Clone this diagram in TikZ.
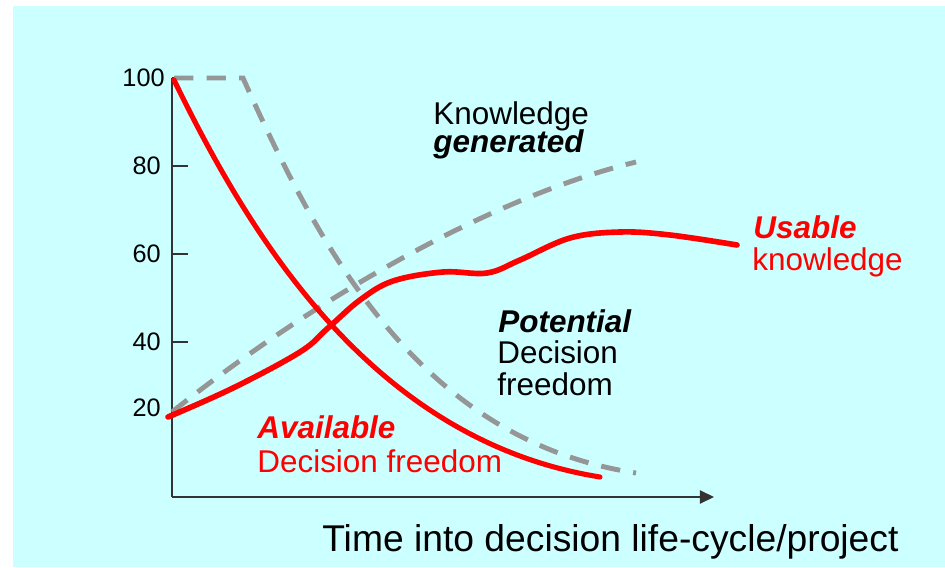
\documentclass[tikz,border=0pt]{standalone}
\usepackage{fontspec}
\setmainfont{Liberation Sans}
\usepackage{tikz}
\usetikzlibrary{arrows.meta}
\definecolor{bgcyan}{HTML}{CCFFFF}
\definecolor{dashgray}{HTML}{969696}
\tikzstyle{lbl} = [inner sep=0pt, anchor=base west, font=\fontsize{17.9}{20}\selectfont]
\tikzstyle{bi} = [font=\fontsize{17.9}{20}\selectfont\bfseries\itshape]
\tikzstyle{ticklbl} = [inner sep=0pt, anchor=east, font=\fontsize{14.4}{16}\selectfont]
\tikzstyle{redcurve} = [red, line width=2.9pt, line cap=round]
\tikzstyle{graycurve} = [dashgray, line width=2.8pt, dash pattern=on 11pt off 7.5pt]

\begin{document}
\begin{tikzpicture}[x=0.02cm, y=-0.02cm]
        \useasboundingbox (0,0) rectangle (945,567);
        \fill [bgcyan] (13,6) rectangle (945,567);
        % axes
        \coordinate (O) at (172,497);
        \coordinate (ytop) at (172,78);
        \coordinate (xend) at (714,497);
        \draw [line width=0.8pt, black!80] (ytop) -- (O);
        \draw [line width=0.8pt, black!80, -{Triangle[length=8pt, width=7.5pt]}] (O) -- (xend);
        \foreach \y in {78,166,254,342} {
            \draw [line width=0.8pt, black!80] (172,\y) -- (188,\y);
        }
        \node (t100) [ticklbl] at (165,78) {100};
        \node (t80) [ticklbl] at (161,166) {80};
        \node (t60) [ticklbl] at (161,254) {60};
        \node (t40) [ticklbl] at (161,342) {40};
        \node (t20) [ticklbl] at (161,408) {20};
        % curves
        \draw [graycurve] (174,78) -- (243,78) .. controls (320,250) and (420,440) .. (636,473);
        \draw [graycurve] (172,412) .. controls (300,310) and (480,200) .. (636,162);
        \draw [redcurve] (174,80) .. controls (248,232) and (370,440) .. (600,477);
        \draw [redcurve, line width=3.2pt] plot [smooth, tension=0.6] coordinates {(168,417) (233,388) (300,352) (328,328) (360,300) (393,281) (443,272) (487,273) (520,260) (570,238) (620,232) (670,235) (737,245)};
        % labels
        \node (kn) [lbl] at (433,125) {Knowledge};
        \node (gen) [lbl, bi] at (433,153) {generated};
        \node (usable) [lbl, bi, red] at (753,238) {Usable};
        \node (usknow) [lbl, red] at (752,270) {knowledge};
        \node (pot) [lbl, bi] at (498,332) {Potential};
        \node (potdec) [lbl] at (497,363) {Decision};
        \node (potfree) [lbl] at (497,395) {freedom};
        \node (avail) [lbl, bi, red] at (257,438) {Available};
        \node (availdec) [lbl, red] at (257,472) {Decision freedom};
        \node (time) [lbl, font=\fontsize{21.2}{25}\selectfont] at (322,551) {Time into decision life-cycle/project};
\end{tikzpicture}
\end{document}
